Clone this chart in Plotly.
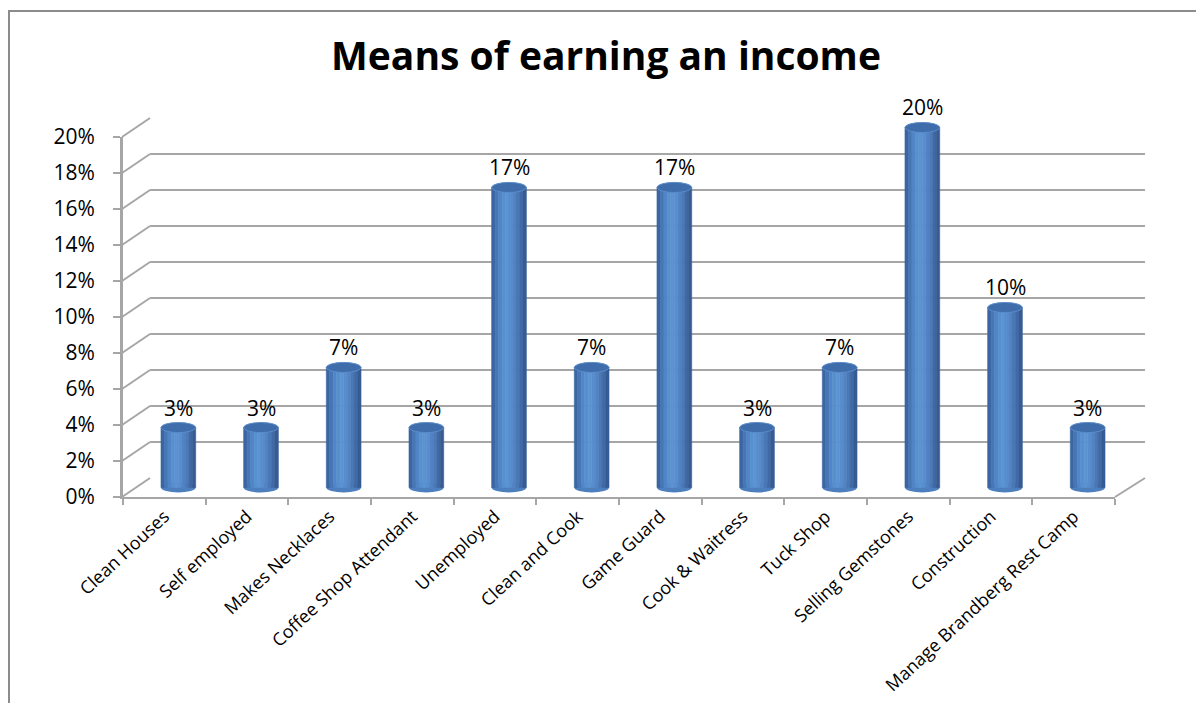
import plotly.graph_objects as go

# ---- data -------------------------------------------------------------
categories = [
    "Clean Houses", "Self employed", "Makes Necklaces", "Coffee Shop Attendant",
    "Unemployed", "Clean and Cook", "Game Guard", "Cook & Waitress",
    "Tuck Shop", "Selling Gemstones", "Construction", "Manage Brandberg Rest Camp",
]
shares = [0.0333, 0.0333, 0.0667, 0.0333, 0.1667, 0.0667,
          0.1667, 0.0333, 0.0667, 0.2000, 0.1000, 0.0333]
y_ticks = [0.00, 0.02, 0.04, 0.06, 0.08, 0.10, 0.12, 0.14, 0.16, 0.18, 0.20]

# ---- page geometry (pixels) --------------------------------------------
W, H = 1196, 703
FONT = "Open Sans"
GRID = "#a6a6a6"


def fx(px):
    return px / W


def fy(py):
    return 1 - py / H


n = len(categories)
idx = list(range(n))
PX_PER_UNIT = 1800  # pixels per 100 % on the value axis

# front plane (axis labels), back plane (grid walls), middle plane (columns)
FRONT_L, FRONT_R, FRONT_0 = 123, 1115, 497
BACK_L, BACK_R, BACK_0 = 150, 1145, 478
MID_L, MID_R, MID_0 = 137, 1129, 487.5
TOP = 0.20
PAD = 0.012  # room for the rounded caps of the columns

fig = go.Figure()

# empty traces so the back wall and the front axes get their subplots
fig.add_trace(go.Scatter(x=[], y=[], xaxis="x", yaxis="y",
                         hoverinfo="skip", showlegend=False))
fig.add_trace(go.Scatter(x=[], y=[], xaxis="x3", yaxis="y3",
                         hoverinfo="skip", showlegend=False))

# cylinder shading: vertical stripes from dark edge to highlight to dark edge
stripe_colors = ["#3b66a1", "#4676b5", "#5085c6", "#5890cf", "#5c94d3",
                 "#598ece", "#5284c4", "#4a79b6", "#4169a6", "#375c93"]
BAR_W = 0.42
sw = BAR_W / len(stripe_colors)
for i, c in enumerate(stripe_colors):
    fig.add_trace(go.Bar(
        x=idx, y=shares, width=sw, offset=-BAR_W / 2 + i * sw,
        marker=dict(color=c, line=dict(color=c, width=0.6)),
        xaxis="x2", yaxis="y2", hoverinfo="skip", showlegend=False,
    ))

# elliptical caps (top) and rounded bottoms of each column
CAP = 0.0028
for k, v in zip(idx, shares):
    fig.add_shape(type="circle", xref="x2", yref="y2",
                  x0=k - BAR_W / 2, x1=k + BAR_W / 2, y0=-CAP, y1=CAP,
                  fillcolor="#4d7fbf", line=dict(width=0), layer="below")
    fig.add_shape(type="circle", xref="x2", yref="y2",
                  x0=k - BAR_W / 2, x1=k + BAR_W / 2, y0=v - CAP, y1=v + CAP,
                  fillcolor="#3f6dab", line=dict(color="#5a8bc9", width=1))
    fig.add_annotation(x=k, y=v, xref="x2", yref="y2", text=f"{v:.0%}",
                       showarrow=False, yanchor="bottom", yshift=4,
                       font=dict(family=FONT, size=21, color="#000000"))

# perspective edges joining the front axis to the back wall
for t in y_ticks:
    fig.add_shape(type="line", xref="paper", yref="paper",
                  x0=fx(FRONT_L - 1), y0=fy(FRONT_0 - t * PX_PER_UNIT),
                  x1=fx(BACK_L), y1=fy(BACK_0 - t * PX_PER_UNIT),
                  line=dict(color=GRID, width=2))
fig.add_shape(type="line", xref="paper", yref="paper",
              x0=fx(FRONT_R), y0=fy(FRONT_0), x1=fx(BACK_R), y1=fy(BACK_0),
              line=dict(color=GRID, width=2))

# outer chart frame
fig.add_shape(type="rect", xref="paper", yref="paper",
              x0=fx(9), y0=fy(11), x1=1.02, y1=-0.02,
              line=dict(color="#8c8c8c", width=2), fillcolor="rgba(0,0,0,0)")

boundaries = [k - 0.5 for k in range(n + 1)]

fig.update_layout(
    template="none",
    width=W, height=H,
    margin=dict(l=0, r=0, t=0, b=0, pad=0),
    paper_bgcolor="white",
    plot_bgcolor="rgba(0,0,0,0)",
    barmode="overlay",
    showlegend=False,
    font=dict(family=FONT, color="#000000"),
    title=dict(text="<b>Means of earning an income</b>", x=fx(606), xanchor="center",
               y=fy(56), yanchor="middle",
               font=dict(family=FONT, size=39, color="#000000")),
    # back wall: horizontal gridlines
    xaxis=dict(domain=[fx(BACK_L), fx(BACK_R)], range=[0, 1], visible=False,
               anchor="y", automargin=False),
    yaxis=dict(domain=[fy(BACK_0), fy(BACK_0 - TOP * PX_PER_UNIT)], range=[0, TOP],
               anchor="x", showgrid=True, gridcolor=GRID, gridwidth=2,
               tickmode="array", tickvals=y_ticks, showticklabels=False,
               zeroline=False, showline=False, ticks="", automargin=False),
    # middle plane: the columns
    xaxis2=dict(domain=[fx(MID_L), fx(MID_R)], range=[-0.5, n - 0.5],
                visible=False, anchor="y2", automargin=False),
    yaxis2=dict(domain=[fy(MID_0 + PAD * PX_PER_UNIT),
                        fy(MID_0 - (TOP + PAD) * PX_PER_UNIT)],
                range=[-PAD, TOP + PAD], visible=False, anchor="x2",
                automargin=False),
    # front plane: value axis and category labels
    xaxis3=dict(domain=[fx(FRONT_L), fx(FRONT_R)], range=[-0.5, n - 0.5],
                anchor="y3", showgrid=False, zeroline=False, automargin=False,
                showline=True, linecolor=GRID, linewidth=2,
                tickmode="array", tickvals=idx, ticktext=categories,
                ticks="", tickangle=-43,
                tickfont=dict(family=FONT, size=18, color="#000000"),
                minor=dict(tickmode="array", tickvals=boundaries, ticks="outside",
                           ticklen=6, tickcolor=GRID, tickwidth=2, showgrid=False)),
    yaxis3=dict(domain=[fy(FRONT_0), fy(FRONT_0 - TOP * PX_PER_UNIT)],
                range=[0, TOP], anchor="x3", showgrid=False, zeroline=False,
                automargin=False,
                showline=True, linecolor=GRID, linewidth=3,
                tickmode="array", tickvals=y_ticks, tickformat=".0%",
                ticks="outside", ticklen=7, tickcolor=GRID, tickwidth=2,
                ticklabelstandoff=14,
                tickfont=dict(family=FONT, size=21, color="#000000")),
)

fig.write_html("out.html")
